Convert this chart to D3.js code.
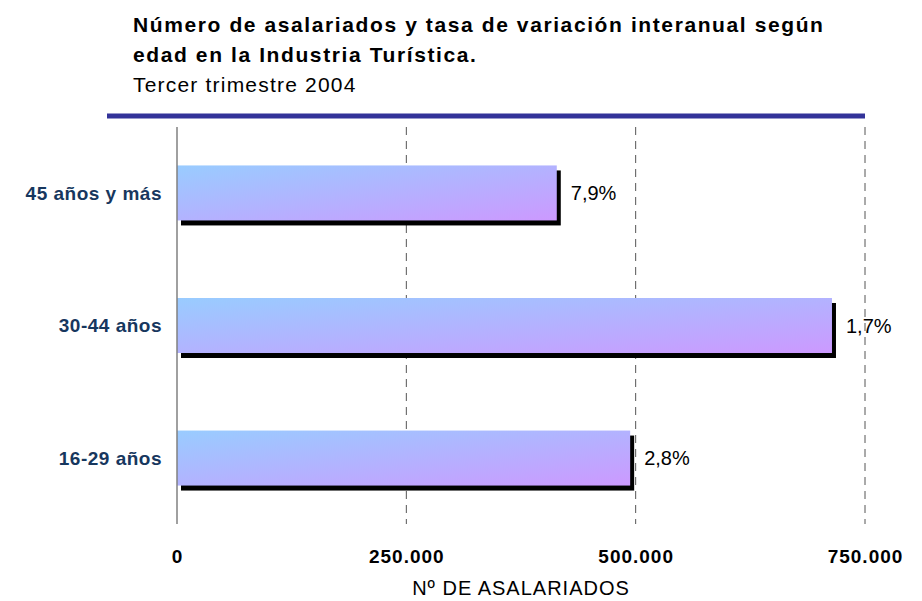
<!DOCTYPE html>
<html>
<head>
<meta charset="utf-8">
<script src="https://cdn.jsdelivr.net/npm/d3@7"></script>
<style>
  html, body { margin: 0; padding: 0; background: #fff; }
  svg { display: block; font-family: "Liberation Sans", Arial, sans-serif; }
</style>
</head>
<body>
<svg id="chart" width="922" height="601"></svg>
<script>
// ---- data ----
const categories = ["45 años y más", "30-44 años", "16-29 años"];
const asalariados = [414000, 714000, 494000];
const variacion = ["7,9%", "1,7%", "2,8%"];
const tickValues = [0, 250000, 500000, 750000];
const tickLabels = ["0", "250.000", "500.000", "750.000"];
const titleLines = ["Número de asalariados y tasa de variación interanual según", "edad en la Industria Turística."];
const subtitle = "Tercer trimestre 2004";
const axisTitle = "Nº DE ASALARIADOS";

// ---- layout ----
const svg = d3.select("#chart");
const plot = { left: 177, right: 865, top: 127, bottom: 524 };

const x = d3.scaleLinear().domain([0, 750000]).range([plot.left, plot.right]);
const y = d3.scaleBand().domain(categories).range([plot.top, plot.bottom]).paddingInner(0.585).paddingOuter(0.29);

// gradient
const defs = svg.append("defs");
const grad = defs.append("linearGradient").attr("id", "barGrad")
  .attr("x1", "0").attr("y1", "0").attr("x2", "1").attr("y2", "1");
grad.append("stop").attr("offset", "0%").attr("stop-color", "#99ccff");
grad.append("stop").attr("offset", "100%").attr("stop-color", "#cc99ff");

// title
const title = svg.append("g").attr("fill", "#000");
title.selectAll("text.t").data(titleLines).join("text")
  .attr("class", "t")
  .attr("x", 133).attr("y", (d, i) => 32 + i * 30)
  .attr("font-size", 21).attr("font-weight", "bold").attr("letter-spacing", 1.6)
  .text(d => d);
title.append("text").attr("x", 133).attr("y", 92)
  .attr("font-size", 21).attr("letter-spacing", 1.2).text(subtitle);

// blue rule
svg.append("line").attr("x1", 107).attr("x2", plot.right).attr("y1", 116).attr("y2", 116)
  .attr("stroke", "#333399").attr("stroke-width", 5);

// gridlines
svg.append("g").selectAll("line").data(tickValues.slice(1)).join("line")
  .attr("x1", d => x(d)).attr("x2", d => x(d))
  .attr("y1", plot.top).attr("y2", plot.bottom)
  .attr("stroke", "#555").attr("stroke-width", 1).attr("stroke-dasharray", "8,6");

// shadows
svg.append("g").selectAll("rect").data(asalariados).join("rect")
  .attr("x", x(0) + 4).attr("y", (d, i) => y(categories[i]) + 5)
  .attr("width", d => x(d) - x(0)).attr("height", y.bandwidth())
  .attr("fill", "#000");

// bars
svg.append("g").selectAll("rect").data(asalariados).join("rect")
  .attr("x", x(0)).attr("y", (d, i) => y(categories[i]))
  .attr("width", d => x(d) - x(0)).attr("height", y.bandwidth())
  .attr("fill", "url(#barGrad)");

// vertical axis line
svg.append("line").attr("x1", x(0)).attr("x2", x(0)).attr("y1", plot.top).attr("y2", plot.bottom)
  .attr("stroke", "#808080").attr("stroke-width", 1.5);

// category labels
svg.append("g").selectAll("text").data(categories).join("text")
  .attr("x", 162).attr("y", d => y(d) + y.bandwidth() / 2)
  .attr("dy", "0.35em").attr("text-anchor", "end")
  .attr("font-size", 19).attr("font-weight", "bold").attr("letter-spacing", 0.5)
  .attr("fill", "#17375e").text(d => d);

// value labels
svg.append("g").selectAll("text").data(asalariados).join("text")
  .attr("x", d => x(d) + 14).attr("y", (d, i) => y(categories[i]) + y.bandwidth() / 2)
  .attr("dy", "0.35em").attr("font-size", 20).attr("fill", "#000")
  .text((d, i) => variacion[i]);

// x axis tick labels
const xAxis = d3.axisBottom(x).tickValues(tickValues).tickSize(0).tickPadding(0)
  .tickFormat((d, i) => tickLabels[i]);
const gx = svg.append("g").attr("transform", `translate(0, ${plot.bottom + 25})`).call(xAxis);
gx.select(".domain").remove();
gx.selectAll("text").attr("font-size", 19).attr("font-weight", "bold").attr("letter-spacing", 1)
  .attr("fill", "#000").attr("font-family", "Liberation Sans, Arial, sans-serif");

// axis title
svg.append("text").attr("x", (x(0) + x(750000)) / 2).attr("y", 595)
  .attr("text-anchor", "middle").attr("font-size", 20).attr("letter-spacing", 1).text(axisTitle);
</script>
</body>
</html>
